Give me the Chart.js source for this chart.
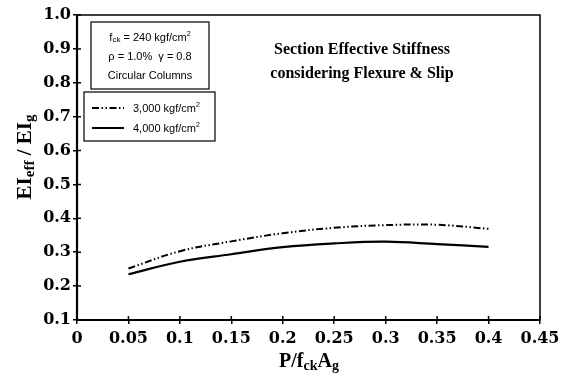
<!DOCTYPE html>
<html>
<head>
<meta charset="utf-8">
<script src="https://cdn.jsdelivr.net/npm/chart.js@4"></script>
<style>
  html, body { margin: 0; padding: 0; background: #fff; }
  #wrap { width: 567px; height: 378px; }
</style>
</head>
<body>
<div id="wrap"><canvas id="stiffness-chart" width="567" height="378"></canvas></div>
<script>
// axial load ratio P/fck*Ag
const loadRatio = [0.05, 0.1, 0.15, 0.2, 0.25, 0.3, 0.35, 0.4];
// EIeff / EIg
const stiff3000 = [0.252, 0.303, 0.332, 0.356, 0.372, 0.380, 0.381, 0.369];
const stiff4000 = [0.235, 0.272, 0.294, 0.315, 0.326, 0.331, 0.324, 0.316];
const seriesNames = ['3,000 kgf/cm', '4,000 kgf/cm'];
const xTickLabels = ['0', '0.05', '0.1', '0.15', '0.2', '0.25', '0.3', '0.35', '0.4', '0.45'];
const yTickLabels = ['0.1', '0.2', '0.3', '0.4', '0.5', '0.6', '0.7', '0.8', '0.9', '1.0'];

const dashDot = [7, 2.5, 1.5, 2.5, 1.5, 2.5];
const tickFont = {family: '"DejaVu Serif", "Liberation Serif", serif', size: 16, weight: 'bold'};
const smallSans = '11px "Liberation Sans", Arial, sans-serif';

function toPoints(xs, ys) {
    const pts = [];
    for (let i = 0; i < xs.length; i++) {
        pts.push({x: xs[i], y: ys[i]});
    }
    return pts;
}

// draws text pieces one after the other, subscripts smaller and lower
function drawPieces(ctx, pieces, x, y) {
    let cx = x;
    for (let p of pieces) {
        ctx.font = p.font;
        ctx.fillText(p.text, cx, y + (p.dy || 0));
        cx += ctx.measureText(p.text).width;
    }
    return cx;
}
function piecesWidth(ctx, pieces) {
    let w = 0;
    for (let p of pieces) {
        ctx.font = p.font;
        w += ctx.measureText(p.text).width;
    }
    return w;
}

const decorPlugin = {
    id: 'decor',
    afterDraw(chart) {
        const ctx = chart.ctx;
        const area = chart.chartArea;
        const xs = chart.scales.x, ys = chart.scales.y;
        ctx.save();
        ctx.strokeStyle = '#000';
        ctx.fillStyle = '#000';

        // frame
        ctx.lineWidth = 1.5;
        ctx.strokeRect(area.left, area.top, area.right - area.left, area.bottom - area.top);
        ctx.lineWidth = 2.2;
        ctx.beginPath();
        ctx.moveTo(area.left, area.top);
        ctx.lineTo(area.left, area.bottom);
        ctx.lineTo(area.right, area.bottom);
        ctx.stroke();

        // inner half of the tick marks
        ctx.lineWidth = 1.5;
        ctx.beginPath();
        for (let t of xs.ticks) {
            const px = xs.getPixelForValue(t.value);
            ctx.moveTo(px, area.bottom);
            ctx.lineTo(px, area.bottom - 4);
        }
        for (let t of ys.ticks) {
            const py = ys.getPixelForValue(t.value);
            ctx.moveTo(area.left, py);
            ctx.lineTo(area.left + 4, py);
        }
        ctx.stroke();

        // x axis title  P/fckAg
        const big = 'bold 20px "Liberation Serif", "DejaVu Serif", serif';
        const sub = 'bold 14px "Liberation Serif", "DejaVu Serif", serif';
        const xTitle = [
            {text: 'P/f', font: big},
            {text: 'ck', font: sub, dy: 3},
            {text: 'A', font: big},
            {text: 'g', font: sub, dy: 3}
        ];
        ctx.textBaseline = 'alphabetic';
        ctx.textAlign = 'left';
        const xw = piecesWidth(ctx, xTitle);
        drawPieces(ctx, xTitle, 309 - xw / 2, 367);

        // y axis title  EIeff / EIg
        const yBig = 'bold 21px "Liberation Serif", "DejaVu Serif", serif';
        const ySub = 'bold 15px "Liberation Serif", "DejaVu Serif", serif';
        const yTitle = [
            {text: 'EI', font: yBig},
            {text: 'eff', font: ySub, dy: 3},
            {text: ' / EI', font: yBig},
            {text: 'g', font: ySub, dy: 3}
        ];
        ctx.save();
        ctx.translate(31, 157);
        ctx.rotate(-Math.PI / 2);
        const yw = piecesWidth(ctx, yTitle);
        drawPieces(ctx, yTitle, -yw / 2, 0);
        ctx.restore();

        // info box
        ctx.lineWidth = 1.2;
        ctx.strokeRect(91, 22, 118, 67);
        ctx.textAlign = 'left';
        const tiny = '7px "Liberation Sans", Arial, sans-serif';
        const info1 = [
            {text: 'f', font: smallSans},
            {text: 'ck', font: '8px "Liberation Sans", Arial, sans-serif', dy: 1},
            {text: ' = 240 kgf/cm', font: smallSans},
            {text: '2', font: tiny, dy: -5}
        ];
        drawPieces(ctx, info1, 150 - piecesWidth(ctx, info1) / 2, 41);
        ctx.font = smallSans;
        ctx.textAlign = 'center';
        ctx.fillText('\u03C1 = 1.0%  \u03B3 = 0.8', 150, 60);
        ctx.fillText('Circular Columns', 150, 79);

        // legend box
        ctx.strokeRect(84, 92, 131, 49);
        const rows = [{y: 108, dash: dashDot, name: seriesNames[0]}, {y: 128, dash: [], name: seriesNames[1]}];
        for (let r of rows) {
            ctx.lineWidth = 2;
            ctx.setLineDash(r.dash);
            ctx.beginPath();
            ctx.moveTo(92, r.y);
            ctx.lineTo(124, r.y);
            ctx.stroke();
            ctx.setLineDash([]);
            ctx.textAlign = 'left';
            const pieces = [{text: r.name, font: smallSans}, {text: '2', font: tiny, dy: -5}];
            drawPieces(ctx, pieces, 133, r.y + 4);
        }

        // annotation
        ctx.textAlign = 'center';
        ctx.font = 'bold 16px "Liberation Serif", "DejaVu Serif", serif';
        ctx.fillText('Section Effective Stiffness', 362, 54);
        ctx.fillText('considering Flexure & Slip', 362, 78);
        ctx.restore();
    }
};

const chart = new Chart(document.getElementById('stiffness-chart'), {
    type: 'line',
    data: {
        datasets: [
            {
                label: seriesNames[0],
                data: toPoints(loadRatio, stiff3000),
                borderColor: '#000',
                borderWidth: 2,
                borderDash: dashDot,
                pointRadius: 0,
                tension: 0.4,
                fill: false
            },
            {
                label: seriesNames[1],
                data: toPoints(loadRatio, stiff4000),
                borderColor: '#000',
                borderWidth: 2.2,
                pointRadius: 0,
                tension: 0.4,
                fill: false
            }
        ]
    },
    options: {
        responsive: false,
        animation: false,
        devicePixelRatio: 1,
        layout: {padding: {top: 15, right: 27, left: 0, bottom: 0}},
        plugins: {legend: {display: false}, tooltip: {enabled: false}},
        scales: {
            x: {
                type: 'linear',
                min: 0, max: 0.45,
                afterFit: s => { s.height = 58; },
                afterBuildTicks: s => { s.ticks = xTickLabels.map(v => ({value: Number(v)})); },
                ticks: {
                    color: '#000',
                    font: tickFont,
                    padding: 5,
                    maxRotation: 0,
                    autoSkip: false,
                    callback: (v, i) => xTickLabels[i]
                },
                grid: {drawOnChartArea: false, drawTicks: true, tickLength: 4, color: '#000', lineWidth: 1.5},
                border: {display: false}
            },
            y: {
                min: 0.1, max: 1.0,
                afterFit: s => { s.width = 77; },
                afterBuildTicks: s => { s.ticks = yTickLabels.map(v => ({value: Number(v)})); },
                ticks: {
                    color: '#000',
                    font: tickFont,
                    padding: 2,
                    autoSkip: false,
                    callback: (v, i) => yTickLabels[i]
                },
                grid: {drawOnChartArea: false, drawTicks: true, tickLength: 4, color: '#000', lineWidth: 1.5},
                border: {display: false}
            }
        }
    },
    plugins: [decorPlugin]
});
</script>
</body>
</html>
